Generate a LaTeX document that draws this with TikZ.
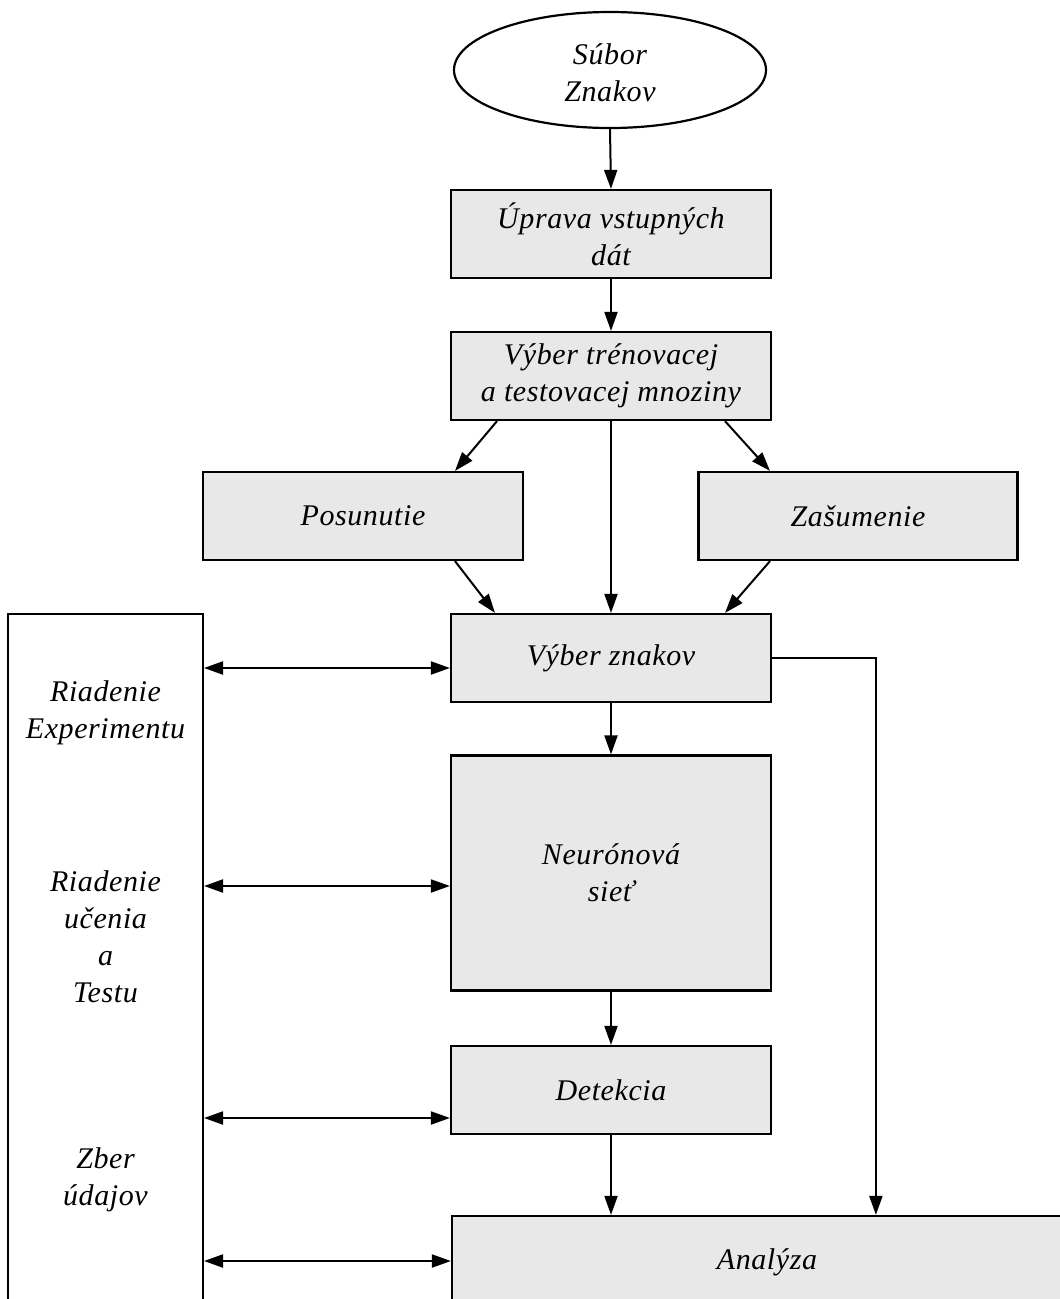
\documentclass[tikz,border=0pt]{standalone}
\usepackage{fontspec}
\setmainfont{Liberation Serif}[ItalicFeatures={LetterSpace=2}]
\usetikzlibrary{shapes.geometric,arrows.meta}
\definecolor{boxgray}{HTML}{E8E8E8}
\begin{document}
\begin{tikzpicture}[x=1pt,y=-1pt,
  every node/.style={font=\fontsize{30}{37}\selectfont\itshape, align=center, inner sep=0pt},
  proc/.style={draw, line width=2.2pt, fill=boxgray, minimum width=320pt, minimum height=88pt},
  side/.style={draw, line width=2pt, minimum width=195pt, minimum height=696pt},
  oval/.style={ellipse, draw, line width=2.2pt, minimum width=312pt, minimum height=116pt},
  arr/.style={line width=2pt, -{Triangle[length=19pt,width=13pt]}},
  dbl/.style={line width=2pt, {Triangle[length=19pt,width=13pt]}-{Triangle[length=19pt,width=13pt]}},
  lbl/.style={draw=none, fill=none}]
\useasboundingbox (0,0) rectangle (1060,1299);
\clip (0,0) rectangle (1060,1299);

% main column
\node[oval] (src) at (610,70) {};
\node[lbl] at (610,73) {Súbor\\Znakov};
\node[proc] (prep) at (611,234) {Úprava vstupných\\dát};
\node[proc] (split) at (611,376) {Výber trénovacej\\a testovacej mnoziny};
\node[proc] (shift) at (363,516) {Posunutie};
\node[proc, minimum width=319pt] (noise) at (858,516) {Zašumenie};
\node[proc] (pick) at (611,658) {Výber znakov};
\node[proc, minimum height=235pt] (net) at (611,873) {Neurónová\\sieť};
\node[proc] (det) at (611,1090) {Detekcia};
\node[proc, minimum width=630pt, minimum height=92pt] (ana) at (767,1262) {};
\node[lbl] at (767,1262) {Analýza};

% control column
\node[side] (ctrl) at (105.5,962) {};
\node[lbl] (c1) at (105.5,713) {Riadenie\\Experimentu};
\node[lbl] (c2) at (105.5,937) {Riadenie\\učenia\\a\\Testu};
\node[lbl] (c3) at (105.5,1180) {Zber\\údajov};

% flow
\draw[arr] (src.south) -- (prep.north);
\draw[arr] (prep.south) -- (split.north);
\draw[arr] ([xshift=-114pt]split.south) -- ([xshift=92pt]shift.north);
\draw[arr] ([xshift=114pt]split.south) -- ([xshift=-88pt]noise.north);
\draw[arr] (split.south) -- (pick.north);
\draw[arr] ([xshift=92pt]shift.south) -- ([xshift=-116pt]pick.north);
\draw[arr] ([xshift=-88pt]noise.south) -- ([xshift=114pt]pick.north);
\draw[arr] (pick.south) -- (net.north);
\draw[arr] (net.south) -- (det.north);
\draw[arr] (det.south) -- (det.south |- ana.north);
\draw[arr] (pick.east) -| ([xshift=425pt]ana.north west);

% links to the control column
\draw[dbl] ([yshift=-10pt]pick.west -| ctrl.east) -- ([yshift=-10pt]pick.west);
\draw[dbl] ([yshift=-13pt]net.west -| ctrl.east) -- ([yshift=-13pt]net.west);
\draw[dbl] ([yshift=-28pt]det.west -| ctrl.east) -- ([yshift=-28pt]det.west);
\draw[dbl] ([yshift=1pt]ana.west -| ctrl.east) -- ([yshift=1pt]ana.west);
\end{tikzpicture}
\end{document}
